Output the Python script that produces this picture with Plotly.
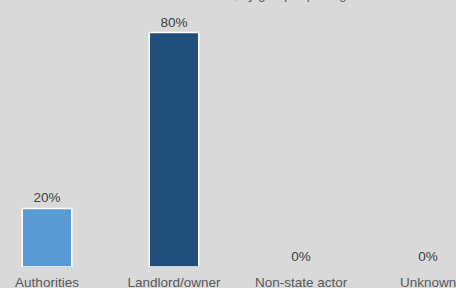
import plotly.graph_objects as go

categories = ["Authorities", "Landlord/owner", "Non-state actor", "Unknown"]
values = [20, 80, 0, 0]
value_labels = ["20%", "80%", "0%", "0%"]
bar_colors = ["#5b9bd5", "#1f4e79", "#5b9bd5", "#5b9bd5"]
title_text = "Share of eviction incidents, by group reporting"

fig = go.Figure()
fig.add_trace(go.Bar(
    x=categories, y=values, text=value_labels, textposition="outside",
    textfont=dict(family="Arial, Liberation Sans", size=13.5, color="#404040"),
    marker=dict(color=bar_colors, line=dict(color="white", width=[1.5, 1.5, 0, 0])),
    width=0.39, cliponaxis=False, hoverinfo="skip",
))

fig.update_layout(
    width=456, height=288,
    paper_bgcolor="#d9d9d9", plot_bgcolor="#d9d9d9",
    margin=dict(l=0, r=0, t=10, b=21, pad=0),
    showlegend=False,
    font=dict(family="Arial, Liberation Sans", size=12, color="#595959"),
    xaxis=dict(range=[-0.370, 3.220], showgrid=False, zeroline=False, automargin=False,
               showline=False, ticks="outside", ticklen=3, tickcolor="rgba(0,0,0,0)",
               tickfont=dict(size=13.5, color="#595959")),
    yaxis=dict(range=[0, 87.7], visible=False),
    annotations=[dict(text=title_text, xref="paper", yref="paper", x=0.47, y=1.0,
                      yshift=6, xanchor="center", yanchor="bottom", showarrow=False,
                      font=dict(size=13, color="#595959"))],
)

fig.write_html("out.html", config={"displayModeBar": False},
               post_script="document.body.style.margin='0';")
